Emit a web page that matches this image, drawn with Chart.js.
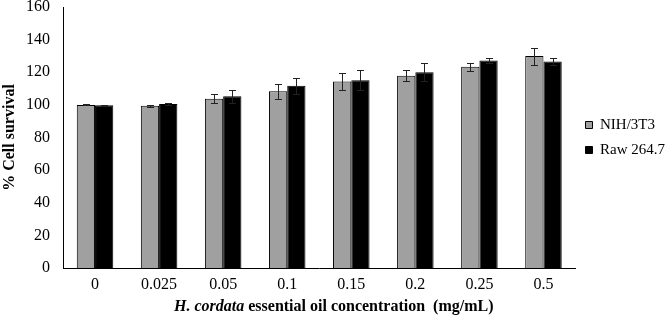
<!DOCTYPE html>
<html>
<head>
<meta charset="utf-8">
<script src="https://cdn.jsdelivr.net/npm/chart.js@4.4.1/dist/chart.umd.min.js"></script>
<style>
  body { margin: 0; background: #fff; }
  #wrap { position: relative; width: 669px; height: 320px; }
  canvas { display: block; }
  #xtitle {
    position: absolute; left: 174px; top: 296px;
    font-family: 'Liberation Serif', serif;
    font-weight: bold; font-size: 16px; line-height: 19px; color: #000; white-space: nowrap;
  }
</style>
</head>
<body>
<div id="wrap">
  <canvas id="grafico" width="669" height="320"></canvas>
  <div id="xtitle"><i>H. cordata</i> essential oil concentration&nbsp; (mg/mL)</div>
</div>
<script>
// dados
const concentracoes = ['0', '0.025', '0.05', '0.1', '0.15', '0.2', '0.25', '0.5'];
const nih3t3 = [100, 99.4, 103.7, 108.4, 114.3, 117.8, 123.3, 129.9];
const nih3t3Erro = [0.3, 0.7, 2.7, 4.6, 5.0, 3.3, 2.5, 5.2];
const raw264 = [99.8, 100.6, 105.3, 111.7, 115.1, 120.0, 127.2, 126.6];
const raw264Erro = [0.3, 0.8, 4.0, 4.8, 6.0, 5.5, 1.7, 2.3];
const yTicks = [0, 20, 40, 60, 80, 100, 120, 140, 160];

const errosPorDataset = [nih3t3Erro, raw264Erro];

// barras de erro desenhadas por cima das barras
const pluginErro = {
    id: 'barrasErro',
    afterDatasetsDraw(chart) {
        const ctx = chart.ctx;
        const y = chart.scales.y;
        ctx.save();
        ctx.strokeStyle = '#222';
        ctx.lineWidth = 1;
        chart.data.datasets.forEach((ds, i) => {
            const meta = chart.getDatasetMeta(i);
            meta.data.forEach((bar, j) => {
                const v = ds.data[j];
                const e = errosPorDataset[i][j];
                const yTop = Math.round(y.getPixelForValue(v + e)) + 0.5;
                const yBot = Math.round(y.getPixelForValue(v - e)) + 0.5;
                const x = Math.round(bar.x) + 0.5;
                ctx.beginPath();
                ctx.moveTo(x, yTop); ctx.lineTo(x, yBot);
                ctx.moveTo(x - 3.5, yTop); ctx.lineTo(x + 3.5, yTop);
                ctx.moveTo(x - 3.5, yBot); ctx.lineTo(x + 3.5, yBot);
                ctx.stroke();
            });
        });
        ctx.restore();
    }
};

const fonteSerif = "'Liberation Serif', 'Times New Roman', serif";

new Chart(document.getElementById('grafico').getContext('2d'), {
    type: 'bar',
    data: {
        labels: concentracoes,
        datasets: [
            { label: 'NIH/3T3', data: nih3t3, backgroundColor: '#a0a0a0', borderColor: '#000', borderWidth: 1 },
            { label: 'Raw 264.7', data: raw264, backgroundColor: '#000', borderColor: '#000', borderWidth: 1 }
        ]
    },
    options: {
        responsive: false,
        animation: false,
        layout: { autoPadding: false, padding: { left: 0, right: -6, top: 7, bottom: 0 } },
        datasets: { bar: { barPercentage: 1, categoryPercentage: 0.57 } },
        plugins: {
            legend: {
                position: 'right',
                fullSize: false,
                labels: {
                    color: '#000',
                    font: { family: fonteSerif, size: 15 },
                    boxWidth: 7, boxHeight: 7, padding: 10
                }
            },
            tooltip: { enabled: false }
        },
        scales: {
            x: {
                grid: { display: false, drawTicks: false },
                border: { display: true, color: '#000', width: 1 },
                ticks: { color: '#000', font: { family: fonteSerif, size: 16 }, padding: 7 },
                afterFit: (axis) => { axis.height = 52; }
            },
            y: {
                min: 0, max: 160,
                afterBuildTicks: (axis) => { axis.ticks = yTicks.map(v => ({ value: v })); },
                grid: { display: false, drawTicks: false },
                border: { display: true, color: '#000', width: 1 },
                ticks: { color: '#000', font: { family: fonteSerif, size: 16 }, padding: 13 },
                title: {
                    display: true, text: '% Cell survival', color: '#000',
                    font: { family: fonteSerif, size: 16, weight: 'bold' }, padding: { top: 0, bottom: 0 }
                },
                afterFit: (axis) => {
                    axis.width = 63;
                    axis.paddingTop = 0;
                    axis.paddingBottom = 0;
                }
            }
        }
    },
    plugins: [pluginErro]
});
</script>
</body>
</html>
